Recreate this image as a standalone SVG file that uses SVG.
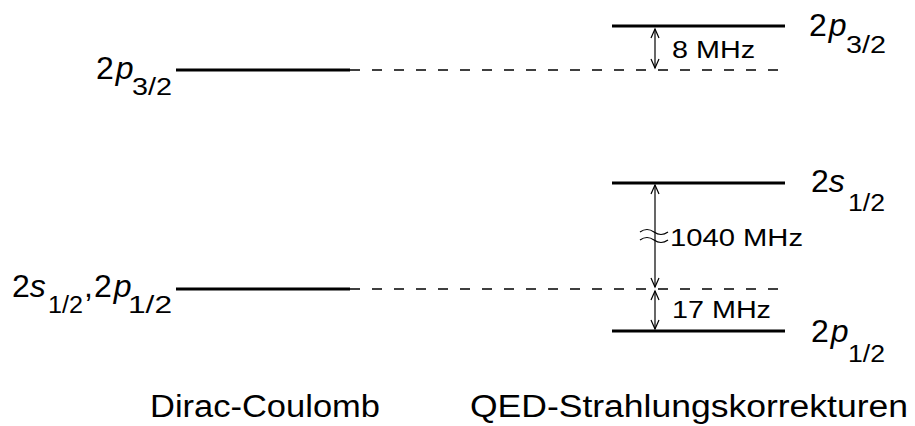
<svg xmlns="http://www.w3.org/2000/svg" width="915" height="426" viewBox="0 0 915 426">
<defs>
<marker id="ah" markerWidth="12" markerHeight="12" refX="10" refY="6" orient="auto-start-reverse" markerUnits="userSpaceOnUse">
<path d="M1,2 L10,6 L1,10" fill="none" stroke="#000" stroke-width="1.2"/>
</marker>
<style>
.lvl{stroke:#000;stroke-width:3;fill:none}
.dash{stroke:#000;stroke-width:1.3;stroke-dasharray:10 12;fill:none}
.arr{stroke:#000;stroke-width:1.2;fill:none;marker-start:url(#ah);marker-end:url(#ah)}
.big{font-family:"Liberation Sans",Arial,sans-serif;font-size:32px;fill:#000}
.it{font-style:italic}
.sub{font-family:"Liberation Sans",Arial,sans-serif;font-size:23px;fill:#000}
.lab{font-family:"Liberation Sans",Arial,sans-serif;font-size:23px;fill:#000}
.cap{font-family:"Liberation Sans",Arial,sans-serif;font-size:31px;fill:#000}
</style>
</defs>
<g id="connectors">
<line class="dash" x1="350" y1="70" x2="785" y2="70"/>
<line class="dash" x1="350" y1="289" x2="785" y2="289"/>
<line class="arr" x1="655" y1="29" x2="655" y2="68"/>
<line class="arr" x1="655" y1="185" x2="655" y2="287"/>
<line class="arr" x1="655" y1="291" x2="655" y2="329"/>
<path d="M640,232 q7,-5 14,0 t14,0 M640,240 q7,-5 14,0 t14,0" stroke="#000" stroke-width="1.2" fill="none"/>
</g>
<g id="dc-2p32">
<line class="lvl" x1="176" y1="70" x2="350" y2="70"/>
<text class="big" x="96" y="79">2<tspan class="it" dx="2">p</tspan></text>
<text class="sub" x="132" y="95" textLength="40" lengthAdjust="spacingAndGlyphs">3/2</text>
</g>
<g id="dc-2s12-2p12">
<line class="lvl" x1="176" y1="289" x2="350" y2="289"/>
<text class="big" x="12" y="297">2<tspan class="it">s</tspan></text>
<text class="sub" x="48" y="313" textLength="35" lengthAdjust="spacingAndGlyphs">1/2</text>
<text class="big" x="84" y="297">,</text>
<text class="big" x="94" y="297">2<tspan class="it" dx="2">p</tspan></text>
<text class="sub" x="128" y="313" textLength="44" lengthAdjust="spacingAndGlyphs">1/2</text>
</g>
<g id="qed-2p32">
<line class="lvl" x1="612" y1="26" x2="785" y2="26"/>
<text class="big" x="809" y="36">2<tspan class="it" dx="2">p</tspan></text>
<text class="sub" x="846" y="53" textLength="40" lengthAdjust="spacingAndGlyphs">3/2</text>
<text class="lab" x="672" y="58" textLength="83" lengthAdjust="spacingAndGlyphs">8 MHz</text>
</g>
<g id="qed-2s12">
<line class="lvl" x1="612" y1="183" x2="785" y2="183"/>
<text class="big" x="811" y="192">2<tspan class="it">s</tspan></text>
<text class="sub" x="848" y="211" textLength="37" lengthAdjust="spacingAndGlyphs">1/2</text>
<text class="lab" x="670" y="246" textLength="133" lengthAdjust="spacingAndGlyphs">1040 MHz</text>
</g>
<g id="qed-2p12">
<line class="lvl" x1="612" y1="331" x2="785" y2="331"/>
<text class="big" x="811" y="342">2<tspan class="it" dx="2">p</tspan></text>
<text class="sub" x="848" y="362" textLength="37" lengthAdjust="spacingAndGlyphs">1/2</text>
<text class="lab" x="672" y="318" textLength="99" lengthAdjust="spacingAndGlyphs">17 MHz</text>
</g>
<g id="captions">
<text class="cap" x="150" y="417" textLength="230" lengthAdjust="spacingAndGlyphs">Dirac-Coulomb</text>
<text class="cap" x="470" y="417" textLength="438" lengthAdjust="spacingAndGlyphs">QED-Strahlungskorrekturen</text>
</g>
</svg>
